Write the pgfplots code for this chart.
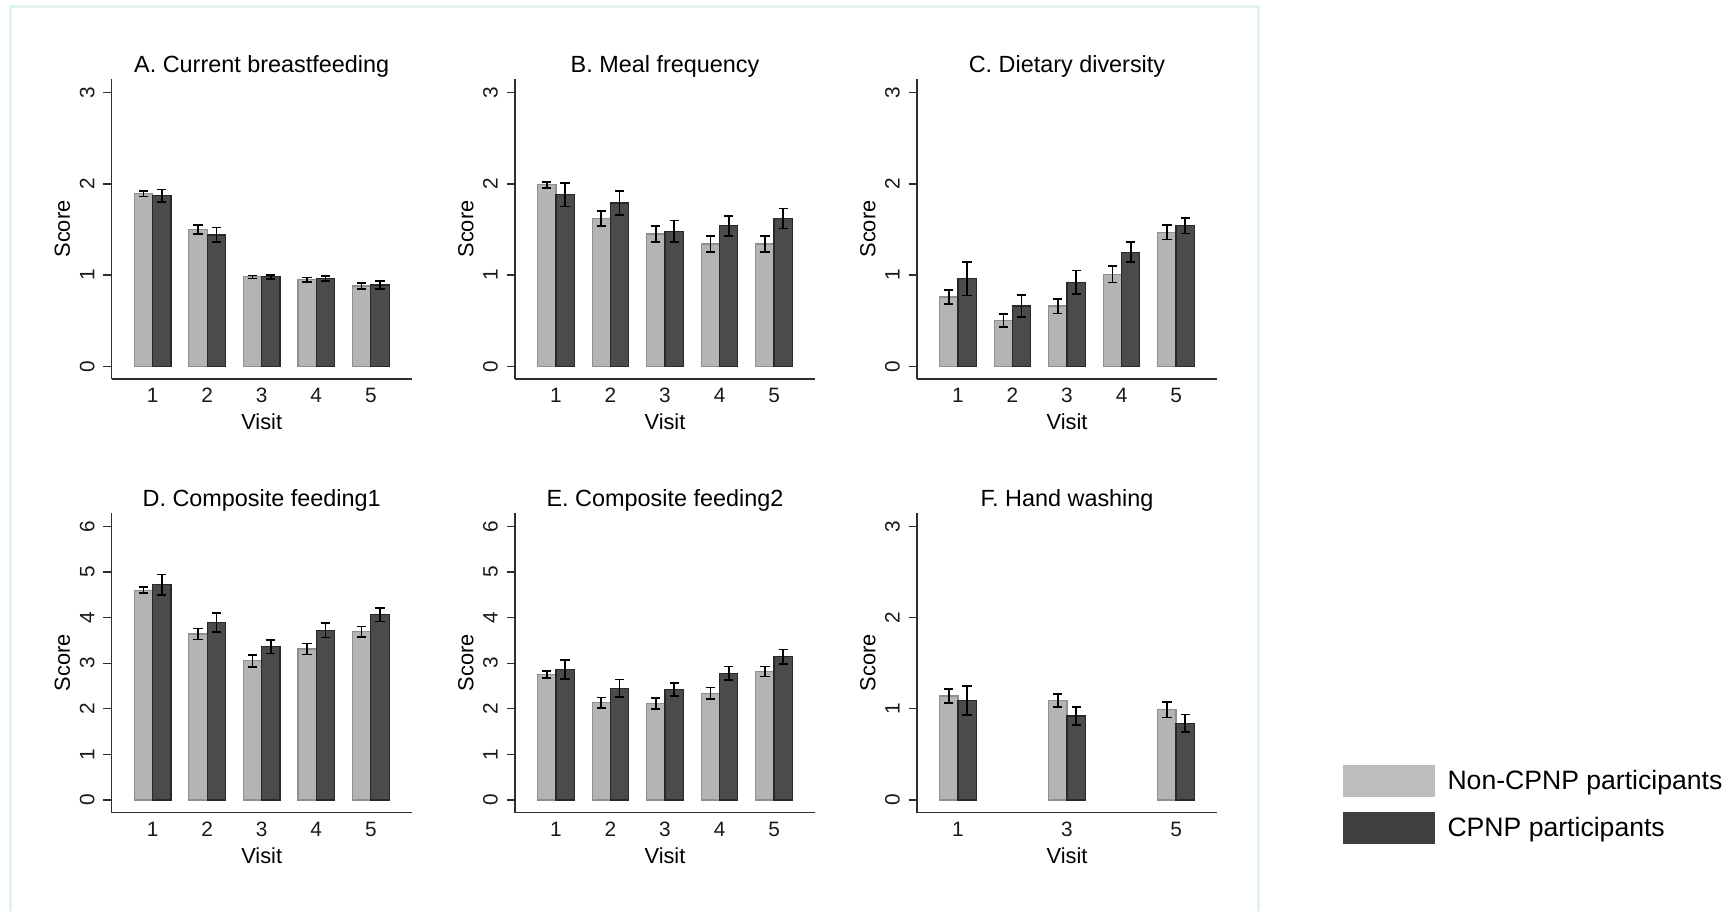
\documentclass[border=0pt]{standalone}
\usepackage{fontspec}
\setmainfont{Liberation Sans}
\usepackage{pgfplots}
\usepackage{pgfplotstable}
\pgfplotsset{compat=1.18}

\definecolor{barlight}{RGB}{180,180,180}
\definecolor{barlightedge}{RGB}{143,143,143}
\definecolor{bardark}{RGB}{75,75,75}
\definecolor{bardarkedge}{RGB}{40,40,40}
\definecolor{leglight}{RGB}{190,190,190}
\definecolor{legdark}{RGB}{64,64,64}
\definecolor{axisgray}{RGB}{45,45,45}
\definecolor{framecol}{RGB}{226,243,244}

% visit, non-CPNP mean, half CI, CPNP mean, half CI
\pgfplotstableread{
v a ae b be
1 1.89 0.030 1.87 0.070
2 1.50 0.050 1.44 0.080
3 0.98 0.017 0.98 0.022
4 0.95 0.024 0.96 0.028
5 0.88 0.035 0.89 0.044
}\tabA
\pgfplotstableread{
v a ae b be
1 1.99 0.033 1.88 0.130
2 1.62 0.080 1.79 0.130
3 1.45 0.090 1.48 0.120
4 1.34 0.090 1.54 0.110
5 1.34 0.090 1.62 0.110
}\tabB
\pgfplotstableread{
v a ae b be
1 0.76 0.075 0.96 0.185
2 0.50 0.070 0.66 0.120
3 0.66 0.080 0.92 0.130
4 1.01 0.090 1.25 0.110
5 1.47 0.080 1.54 0.085
}\tabC
\pgfplotstableread{
v a ae b be
1 4.60 0.065 4.72 0.225
2 3.64 0.120 3.89 0.210
3 3.05 0.130 3.36 0.150
4 3.31 0.120 3.72 0.160
5 3.69 0.110 4.06 0.150
}\tabD
\pgfplotstableread{
v a ae b be
1 2.75 0.080 2.86 0.210
2 2.13 0.120 2.45 0.190
3 2.11 0.120 2.42 0.140
4 2.34 0.130 2.78 0.150
5 2.82 0.110 3.14 0.160
}\tabE
\pgfplotstableread{
v a ae b be
1 1.14 0.075 1.09 0.160
3 1.09 0.073 0.92 0.100
5 0.99 0.085 0.84 0.097
}\tabF

\pgfplotsset{
  panel/.style={
    scale only axis, width=150pt, height=150pt,
    xmin=0.25, xmax=5.75,
    axis x line*=bottom, axis y line*=left,
    axis line style={axisgray, line width=0.65pt},
    xtick={1,2,3,4,5},
    xtick style={draw=none},
    ytick style={axisgray, line width=0.65pt},
    tick align=outside, major tick length=4.2pt,
    /pgf/number format/assume math mode=true,
    tick label style={font=\fontsize{10.4}{11}\selectfont, text=black!90},
    xticklabel style={anchor=base},
    xticklabel shift=7.6pt,
    yticklabel style={rotate=90, anchor=base, yshift=4.5pt},
    every axis title/.style={at={(axis description cs:0.5,1)}, anchor=base,
      yshift=3pt, font=\fontsize{11.7}{13}\selectfont},
    every axis x label/.style={at={(axis description cs:0.5,-0.17)}, anchor=base,
      font=\fontsize{10.9}{12}\selectfont},
    every axis y label/.style={at={(axis description cs:-0.139,0.5)}, rotate=90,
      anchor=base, font=\fontsize{10.9}{12}\selectfont},
    xlabel={Visit}, ylabel={Score},
    clip=false,
  },
  small/.style={ymin=-0.14, ymax=3.15, ytick={0,1,2,3}},
  big/.style={ymin=-0.28, ymax=6.3, ytick={0,1,2,3,4,5,6}},
  lightbar/.style={ybar, bar width=0.336, bar shift=0pt,
    fill=barlight, draw=barlightedge, line width=0.6pt,
    error bars/.cd, y dir=both, y explicit,
    error bar style={black, line width=0.8pt},
    error mark options={rotate=90, black, line width=0.8pt, mark size=2.3pt}},
  darkbar/.style={ybar, bar width=0.336, bar shift=0pt,
    fill=bardark, draw=bardarkedge, line width=0.6pt,
    error bars/.cd, y dir=both, y explicit,
    error bar style={black, line width=0.8pt},
    error mark options={rotate=90, black, line width=0.8pt, mark size=2.3pt}},
}

\newcommand{\pairbars}[1]{%
  \addplot[lightbar] table[x expr=\thisrow{v}-0.168, y=a, y error=ae] {#1};
  \addplot[darkbar] table[x expr=\thisrow{v}+0.168, y=b, y error=be] {#1};
}

\begin{document}
\begin{tikzpicture}[x=1pt,y=1pt]
\useasboundingbox (0,0) rectangle (864.5,455.5);
% outer frame
\draw[framecol, line width=1.5pt] (5,0) -- (5,452.2) -- (629.2,452.2) -- (629.2,0);

\begin{axis}[panel, small, at={(55.85pt,266pt)}, anchor=south west, title={A. Current breastfeeding}]
  \pairbars{\tabA}
\end{axis}
\begin{axis}[panel, small, at={(257.5pt,266pt)}, anchor=south west, title={B. Meal frequency}]
  \pairbars{\tabB}
\end{axis}
\begin{axis}[panel, small, at={(458.5pt,266pt)}, anchor=south west, title={C. Dietary diversity}]
  \pairbars{\tabC}
\end{axis}
\begin{axis}[panel, big, at={(55.85pt,49.15pt)}, anchor=south west, title={D. Composite feeding1}]
  \pairbars{\tabD}
\end{axis}
\begin{axis}[panel, big, at={(257.5pt,49.15pt)}, anchor=south west, title={E. Composite feeding2}]
  \pairbars{\tabE}
\end{axis}
\begin{axis}[panel, small, at={(458.5pt,49.15pt)}, anchor=south west, title={F. Hand washing},
  xtick={1,3,5},
  legend style={at={(axis description cs:1.419,0.159)}, anchor=north west,
    draw=none, fill=none, inner sep=0pt, row sep=7.7pt, column sep=6.3pt,
    font=\fontsize{13.3}{15}\selectfont,
    nodes={inner sep=0pt, anchor=west}},
  legend cell align=left]
  \addlegendimage{legend image code/.code={\fill[leglight] (0pt,-7.65pt) rectangle (45.5pt,7.65pt);}}
  \addlegendentry{Non-CPNP participants}
  \addlegendimage{legend image code/.code={\fill[legdark] (0pt,-7.65pt) rectangle (45.5pt,7.65pt);}}
  \addlegendentry{CPNP participants}
  \pairbars{\tabF}
\end{axis}
\end{tikzpicture}
\end{document}
